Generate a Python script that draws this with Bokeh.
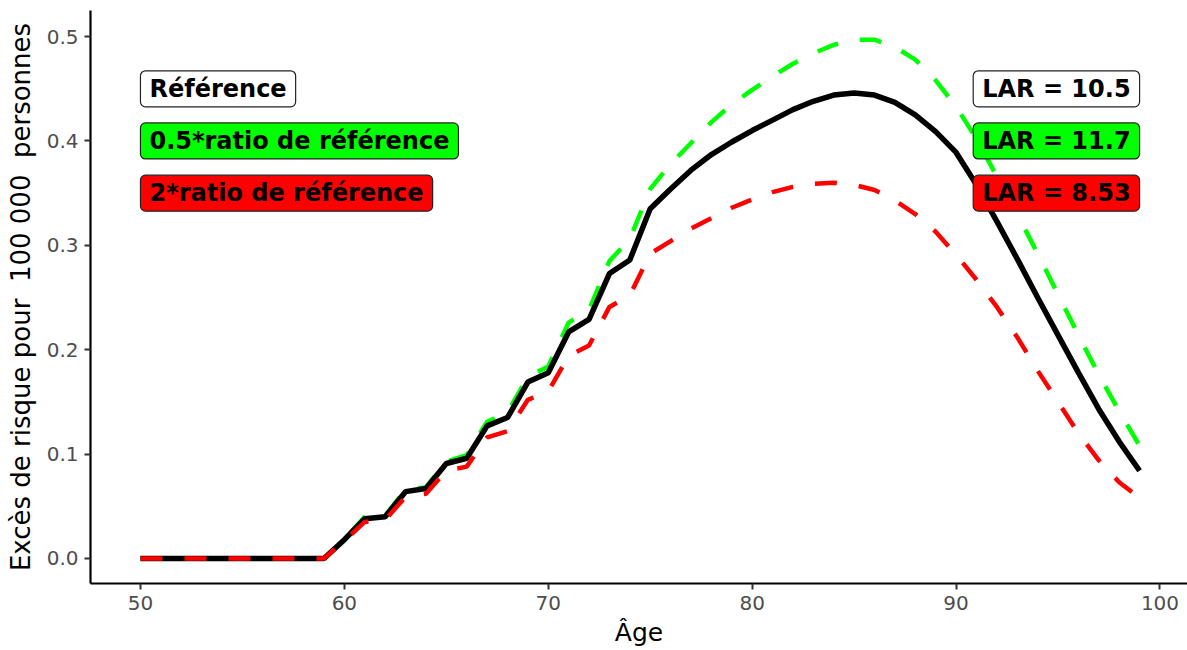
from bokeh.plotting import figure
from bokeh.models import Range1d, FixedTicker, PrintfTickFormatter, Label
from bokeh.embed import file_html
from bokeh.resources import INLINE

# Age (years) and excess risk per 100 000 persons for three scenarios
ages = list(range(50, 100))

risk_ref = [0.0] * 10 + [
    0.018, 0.038, 0.040, 0.064, 0.067, 0.091, 0.096, 0.127, 0.135, 0.169,
    0.178, 0.217, 0.229, 0.273, 0.286, 0.335, 0.354, 0.372, 0.387, 0.399,
    0.410, 0.420, 0.430, 0.438, 0.444, 0.446, 0.444, 0.437, 0.425, 0.409,
    0.389, 0.358, 0.323, 0.287, 0.250, 0.214, 0.178, 0.143, 0.112, 0.084,
]
risk_half = [0.0] * 10 + [
    0.018, 0.040, 0.041, 0.066, 0.068, 0.093, 0.099, 0.131, 0.140, 0.174,
    0.184, 0.226, 0.238, 0.285, 0.306, 0.354, 0.378, 0.398, 0.418, 0.435,
    0.449, 0.462, 0.474, 0.484, 0.492, 0.497, 0.497, 0.490, 0.478, 0.458,
    0.433, 0.402, 0.366, 0.330, 0.292, 0.253, 0.214, 0.176, 0.141, 0.108,
]
risk_double = [0.0] * 10 + [
    0.017, 0.035, 0.037, 0.059, 0.062, 0.084, 0.088, 0.116, 0.122, 0.152,
    0.160, 0.194, 0.204, 0.241, 0.252, 0.292, 0.304, 0.316, 0.326, 0.336,
    0.344, 0.351, 0.356, 0.359, 0.360, 0.358, 0.353, 0.343, 0.330, 0.313,
    0.291, 0.267, 0.241, 0.212, 0.180, 0.150, 0.120, 0.094, 0.073, 0.058,
]

scenario_names = ["Référence", "0.5*ratio de référence", "2*ratio de référence"]
lar_values = [10.5, 11.7, 8.53]
label_y = [0.45, 0.40, 0.35]
fills = ["#FFFFFF", "#00FF00", "#FF0000"]

x_ticks = [50, 60, 70, 80, 90, 100]
y_ticks = [0.0, 0.1, 0.2, 0.3, 0.4, 0.5]

FONT = "DejaVu Sans"

p = figure(
    width=1187, height=650,
    output_backend="svg", toolbar_location=None,
    x_range=Range1d(47.55, 101.35), y_range=Range1d(-0.024, 0.525),
    min_border_left=90, min_border_right=0, min_border_top=10, min_border_bottom=67,
    background_fill_color="white", border_fill_color="white",
)
p.outline_line_color = None
p.grid.visible = False

for ax in (p.xaxis, p.yaxis):
    ax.axis_line_color = "black"
    ax.axis_line_width = 2.2
    ax.major_tick_line_color = "#333333"
    ax.major_tick_line_width = 2
    ax.major_tick_out = 6
    ax.major_tick_in = 0
    ax.minor_tick_line_color = None
    ax.major_label_text_font = FONT
    ax.major_label_text_font_size = "20px"
    ax.major_label_text_color = "#4D4D4D"
    ax.axis_label_text_font = FONT
    ax.axis_label_text_font_style = "normal"
    ax.axis_label_text_color = "black"

p.xaxis.ticker = FixedTicker(ticks=x_ticks)
p.yaxis.ticker = FixedTicker(ticks=y_ticks)
p.yaxis.formatter = PrintfTickFormatter(format="%.1f")
p.xaxis.axis_label = "Âge"
# non-breaking spaces keep the doubled gaps around the number
p.yaxis.axis_label = "Excès de risque pour \u00a0100 000 \u00a0personnes"
p.xaxis.axis_label_text_font_size = "25px"
p.yaxis.axis_label_text_font_size = "26px"
p.xaxis.major_label_standoff = 6
p.yaxis.major_label_standoff = 6
p.xaxis.axis_label_standoff = 5
p.yaxis.axis_label_standoff = 8

# curves: 0.5x ratio underneath, reference, then 2x ratio on top
p.line(ages, risk_half, line_color="#00FF00", line_width=4.5, line_dash="22 22")
p.line(ages, risk_ref, line_color="black", line_width=5.5)
p.line(ages, risk_double, line_color="#FF0000", line_width=4.5, line_dash="22 22")

for name, lar, yv, fill in zip(scenario_names, lar_values, label_y, fills):
    common = dict(
        y=yv, x_units="data", y_units="data",
        text_font=FONT, text_font_style="bold", text_font_size="24px",
        text_color="black", text_baseline="middle",
        background_fill_color=fill, border_line_color="#222222",
        border_line_width=1.2, border_radius=5, padding=(9, 4),
    )
    p.add_layout(Label(x=ages[0], text=name, text_align="left", **common))
    p.add_layout(Label(x=ages[-1], text=f"LAR = {lar:g}", text_align="right", **common))

open("out.html", "w").write(file_html(p, INLINE))
